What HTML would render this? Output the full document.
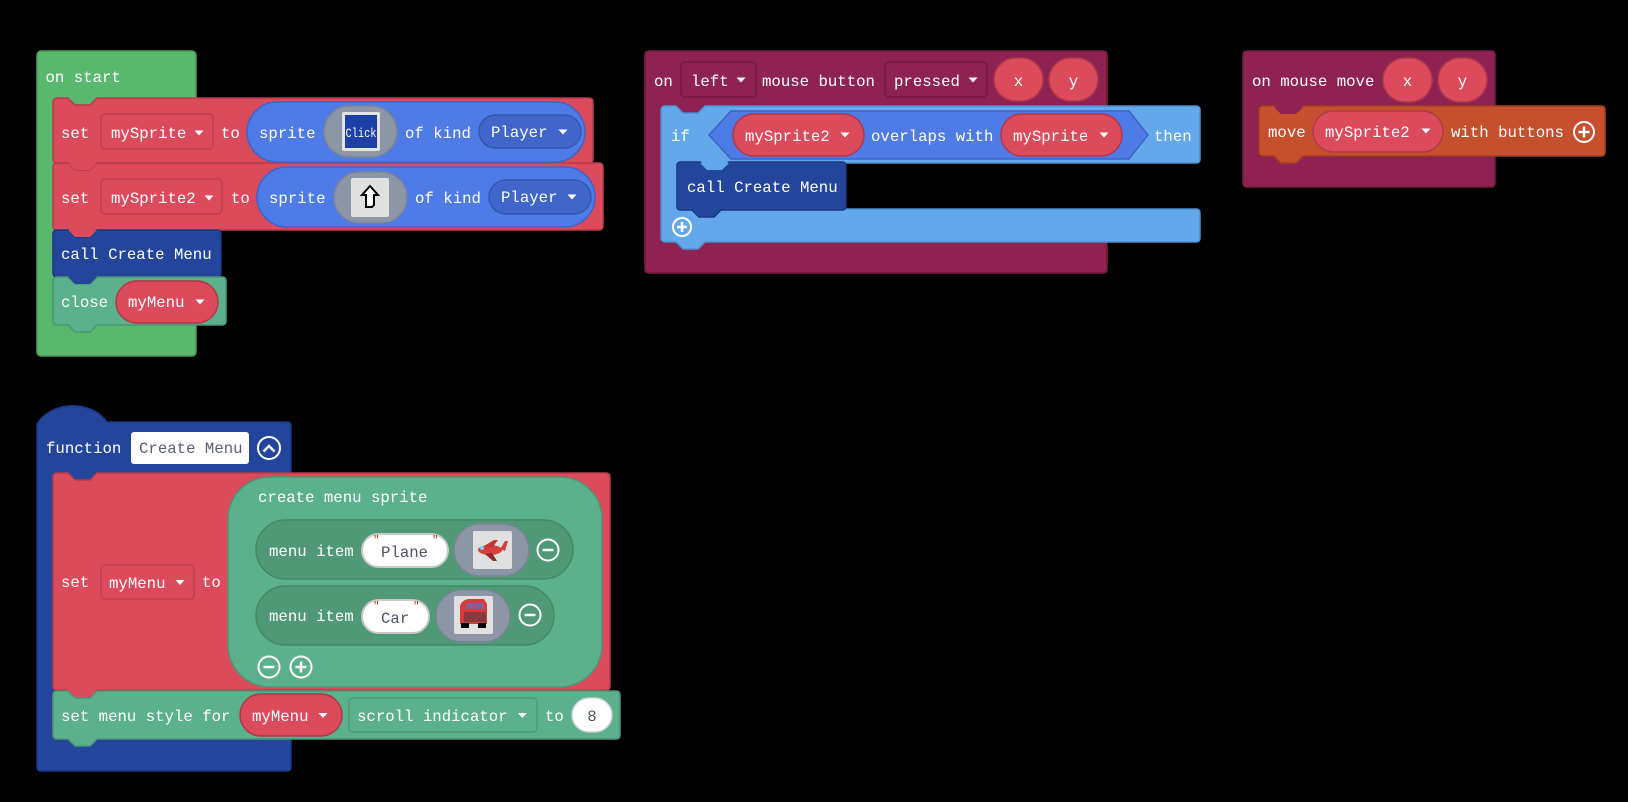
<!DOCTYPE html>
<html><head><meta charset="utf-8"><style>
html,body{margin:0;padding:0;background:#000;}
svg{display:block;}
text{font-family:"Liberation Mono",monospace;font-size:15.7px;fill:#fff;}
.dk{fill:#4d5466;}
.q{fill:#c0392b;font-size:11px;}
</style></head><body>
<svg width="1628" height="802" viewBox="0 0 1628 802" xmlns="http://www.w3.org/2000/svg">
<rect width="1628" height="802" fill="#000"/>

<!-- ON START -->
<rect x="37" y="51" width="159" height="305" rx="4" fill="#5ab86e" stroke="#4a9a5a" stroke-width="1.5"/>
<text x="45.5" y="82">on start</text>

<!-- set mySprite -->
<path d="M53,102 Q53,98 57,98 H68 l7,7 h15 l7,-7 H589 Q593,98 593,102 V159 Q593,163 589,163 H97 l-7,7 h-15 l-7,-7 H57 Q53,163 53,159 Z" fill="#dc4b5c" stroke="#b63c4b" stroke-width="1.5"/>
<!-- set mySprite2 -->
<path d="M53,167 Q53,163 57,163 H68 l7,7 h15 l7,-7 H599 Q603,163 603,167 V226 Q603,230 599,230 H97 l-7,7 h-15 l-7,-7 H57 Q53,230 53,226 Z" fill="#dc4b5c" stroke="#b63c4b" stroke-width="1.5"/>
<!-- call -->
<path d="M53,234 Q53,230 57,230 H68 l7,7 h15 l7,-7 H217 Q221,230 221,234 V273 Q221,277 217,277 H97 l-7,7 h-15 l-7,-7 H57 Q53,277 53,273 Z" fill="#23469c" stroke="#1b3680" stroke-width="1.5"/>
<!-- close -->
<path d="M53,281 Q53,277 57,277 H68 l7,7 h15 l7,-7 H222 Q226,277 226,281 V321 Q226,325 222,325 H97 l-7,7 h-15 l-7,-7 H57 Q53,325 53,321 Z" fill="#5cb18d" stroke="#4b9676" stroke-width="1.5"/>
<!-- redraw tabs over notches -->
<path d="M68,163 l7,7 h15 l7,-7 Z" fill="#dc4b5c"/>
<path d="M68,230 l7,7 h15 l7,-7 Z" fill="#dc4b5c"/>
<path d="M68,277 l7,7 h15 l7,-7 Z" fill="#23469c"/>

<!-- row1 -->
<text x="61" y="138">set</text>
<rect x="101" y="114" width="112" height="35" rx="4" fill="#dc4b5c" stroke="#b83e4e" stroke-width="1.2"/>
<text x="111" y="138">mySprite</text>
<polygon points="194.5,130.5 203.5,130.5 199,135.5" fill="#fff"/>
<text x="221" y="138">to</text>
<rect x="247" y="102" width="338" height="60" rx="30" fill="#4f7be6" stroke="#3e64c8" stroke-width="1.5"/>
<text x="259" y="138">sprite</text>
<rect x="324" y="106" width="73" height="51" rx="25.5" fill="#8d96a6" stroke="#7b8494" stroke-width="1.5"/>
<rect x="342" y="112" width="38" height="39" rx="2" fill="#e3e3e3"/>
<rect x="345" y="115" width="32" height="33" fill="#1d3fa8"/>
<text x="345.5" y="137" style="font-size:13px" textLength="31" lengthAdjust="spacingAndGlyphs">Click</text>
<text x="405" y="138">of kind</text>
<rect x="479" y="115" width="102" height="33" rx="16.5" fill="#4066cc" stroke="#3556b0" stroke-width="1.5"/>
<text x="491" y="137">Player</text>
<polygon points="558.5,129.5 567.5,129.5 563,134.5" fill="#fff"/>

<!-- row2 -->
<text x="61" y="203">set</text>
<rect x="101" y="179" width="121" height="35" rx="4" fill="#dc4b5c" stroke="#b83e4e" stroke-width="1.2"/>
<text x="111" y="203">mySprite2</text>
<polygon points="204.5,195.5 213.5,195.5 209,200.5" fill="#fff"/>
<text x="231" y="203">to</text>
<rect x="257" y="167" width="338" height="60" rx="30" fill="#4f7be6" stroke="#3e64c8" stroke-width="1.5"/>
<text x="269" y="203">sprite</text>
<rect x="334" y="172" width="73" height="51" rx="25.5" fill="#8d96a6" stroke="#7b8494" stroke-width="1.5"/>
<rect x="351" y="178" width="38" height="39" rx="2" fill="#e0e0e0"/>
<path d="M370,186 L378,195 L374,195 L374,205 L372,207 L366,207 L366,195 L362,195 Z" fill="#fff" stroke="#000" stroke-width="2"/>
<text x="415" y="203">of kind</text>
<rect x="489" y="180" width="102" height="34" rx="17" fill="#4066cc" stroke="#3556b0" stroke-width="1.5"/>
<text x="501" y="202">Player</text>
<polygon points="567.5,194.5 576.5,194.5 572,199.5" fill="#fff"/>

<text x="61" y="259">call Create Menu</text>
<text x="61" y="307">close</text>
<rect x="116" y="281" width="102" height="42" rx="21" fill="#dc4b5c" stroke="#b03848" stroke-width="1.5"/>
<text x="128" y="307">myMenu</text>
<polygon points="195.5,299.5 204.5,299.5 200,304.5" fill="#fff"/>

<!-- ON LEFT MOUSE BUTTON -->
<path d="M649,51 H1103 Q1107,51 1107,55 V106 H705 l-7,7 h-15 l-7,-7 H661 V242 H1107 V269 Q1107,273 1103,273 H649 Q645,273 645,269 V55 Q645,51 649,51 Z" fill="#8e2253" stroke="#751b44" stroke-width="1.5"/>
<text x="654" y="86">on</text>
<rect x="681" y="62" width="75" height="35" rx="4" fill="#8e2253" stroke="#6e1940" stroke-width="1.2"/>
<text x="691" y="86">left</text>
<polygon points="736.5,77.5 745.5,77.5 741,82.5" fill="#fff"/>
<text x="762" y="86">mouse button</text>
<rect x="885" y="62" width="102" height="35" rx="4" fill="#8e2253" stroke="#6e1940" stroke-width="1.2"/>
<text x="894" y="86">pressed</text>
<polygon points="968.5,77.5 977.5,77.5 973,82.5" fill="#fff"/>
<rect x="994" y="58" width="49" height="43" rx="21.5" fill="#dc4b5c" stroke="#b03848" stroke-width="1.5"/>
<text x="1018.5" y="86" text-anchor="middle">x</text>
<rect x="1049" y="58" width="49" height="43" rx="21.5" fill="#dc4b5c" stroke="#b03848" stroke-width="1.5"/>
<text x="1073.5" y="86" text-anchor="middle">y</text>

<!-- IF -->
<path d="M665,106 H676 l7,7 h15 l7,-7 H1196 Q1200,106 1200,110 V159 Q1200,163 1196,163 H729 l-7,7 h-15 l-7,-7 H677 V209 H1196 Q1200,209 1200,213 V238 Q1200,242 1196,242 H705 l-7,7 h-15 l-7,-7 H665 Q661,242 661,238 V110 Q661,106 665,106 Z" fill="#62a8ea" stroke="#4e8fd0" stroke-width="1.5"/>
<text x="671" y="141">if</text>
<polygon points="709,135 731,111 1129,111 1148,135 1129,159 731,159" fill="#4f7be6" stroke="#3c62c5" stroke-width="1.5"/>
<rect x="733" y="114" width="131" height="42" rx="21" fill="#dc4b5c" stroke="#b03848" stroke-width="1.5"/>
<text x="745" y="141">mySprite2</text>
<polygon points="840.5,132.5 849.5,132.5 845,137.5" fill="#fff"/>
<text x="871" y="141">overlaps with</text>
<rect x="1001" y="114" width="121" height="42" rx="21" fill="#dc4b5c" stroke="#b03848" stroke-width="1.5"/>
<text x="1013" y="141">mySprite</text>
<polygon points="1099.5,132.5 1108.5,132.5 1104,137.5" fill="#fff"/>
<text x="1154" y="141">then</text>
<!-- inner call -->
<path d="M677,166 Q677,162 681,162 H700 l7,7 h15 l7,-7 H842 Q846,162 846,166 V206 Q846,210 842,210 H721 l-7,7 h-15 l-7,-7 H681 Q677,210 677,206 Z" fill="#23469c" stroke="#1b3680" stroke-width="1.5"/>
<path d="M700,163 l7,7 h15 l7,-7 Z" fill="#62a8ea"/>
<text x="687" y="192">call Create Menu</text>
<circle cx="682" cy="227" r="9" fill="none" stroke="#fff" stroke-width="2"/>
<path d="M677,227 H687 M682,222 V232" stroke="#fff" stroke-width="2.5"/>

<!-- ON MOUSE MOVE -->
<path d="M1247,51 H1491 Q1495,51 1495,55 V106 H1303 l-7,7 h-15 l-7,-7 H1259 V156 H1495 V183 Q1495,187 1491,187 H1247 Q1243,187 1243,183 V55 Q1243,51 1247,51 Z" fill="#8e2253" stroke="#751b44" stroke-width="1.5"/>
<text x="1252" y="86">on mouse move</text>
<rect x="1383" y="58" width="49" height="44" rx="22" fill="#dc4b5c" stroke="#b03848" stroke-width="1.5"/>
<text x="1407.5" y="86" text-anchor="middle">x</text>
<rect x="1438" y="58" width="49" height="44" rx="22" fill="#dc4b5c" stroke="#b03848" stroke-width="1.5"/>
<text x="1462.5" y="86" text-anchor="middle">y</text>
<path d="M1259,110 Q1259,106 1263,106 H1274 l7,7 h15 l7,-7 H1601 Q1605,106 1605,110 V152 Q1605,156 1601,156 H1303 l-7,7 h-15 l-7,-7 H1263 Q1259,156 1259,152 Z" fill="#c64f2d" stroke="#a63f22" stroke-width="1.5"/>
<path d="M1274,107 l7,7 h15 l7,-7 Z" fill="#8e2253"/>
<text x="1268" y="137">move</text>
<rect x="1313" y="111" width="130" height="41" rx="20.5" fill="#dc4b5c" stroke="#b03848" stroke-width="1.5"/>
<text x="1325" y="137">mySprite2</text>
<polygon points="1421.5,128.5 1430.5,128.5 1426,133.5" fill="#fff"/>
<text x="1451" y="137">with buttons</text>
<circle cx="1584" cy="132" r="10" fill="none" stroke="#fff" stroke-width="2"/>
<path d="M1578.5,132 H1589.5 M1584,126.5 V137.5" stroke="#fff" stroke-width="2.5"/>

<!-- FUNCTION -->
<path d="M37,424 C52,400 92,400 107,422 H287 Q291,422 291,426 V767 Q291,771 287,771 H41 Q37,771 37,767 Z" fill="#23469c" stroke="#1b3680" stroke-width="1.5"/>
<text x="46" y="453">function</text>
<rect x="131" y="432" width="118" height="32" rx="3" fill="#fff"/>
<text x="139" y="453" style="fill:#575e75">Create Menu</text>
<circle cx="269" cy="448" r="11" fill="none" stroke="#fff" stroke-width="2"/>
<polyline points="263.5,451.5 269,446 274.5,451.5" fill="none" stroke="#fff" stroke-width="2.5"/>

<!-- set myMenu -->
<path d="M53,477 Q53,473 57,473 H68 l7,7 h15 l7,-7 H606 Q610,473 610,477 V686 Q610,690 606,690 H97 l-7,7 h-15 l-7,-7 H57 Q53,690 53,686 Z" fill="#dc4b5c" stroke="#b63c4b" stroke-width="1.5"/>
<text x="61" y="587">set</text>
<rect x="101" y="565" width="93" height="34" rx="4" fill="#dc4b5c" stroke="#b83e4e" stroke-width="1.2"/>
<text x="109" y="588">myMenu</text>
<polygon points="175.5,580 184.5,580 180,585" fill="#fff"/>
<text x="202" y="587">to</text>
<rect x="228" y="477" width="374" height="210" rx="42" fill="#5cb18d" stroke="#4b9676" stroke-width="1.5"/>
<text x="258" y="502">create menu sprite</text>

<!-- plane item -->
<rect x="256" y="520" width="317" height="59" rx="29.5" fill="#4f9977" stroke="#44876a" stroke-width="1.5"/>
<text x="269" y="556">menu item</text>
<rect x="362" y="534" width="86" height="33" rx="16.5" fill="#fff" stroke="#c8c8c8" stroke-width="2"/>
<text x="373" y="543" class="q">"</text>
<text x="381" y="557" class="dk">Plane</text>
<text x="432" y="543" class="q">"</text>
<rect x="454" y="524" width="75" height="52" rx="26" fill="#8d96a6" stroke="#7b8494" stroke-width="1.5"/>
<rect x="473" y="531" width="39" height="38" rx="2" fill="#e0e0e0"/>
<ellipse cx="490" cy="550" rx="12" ry="5" fill="#d8403a"/>
<path d="M484,546 L494,540 L498,540 L492,548 Z" fill="#c23530"/>
<path d="M485,554 L493,561 L497,561 L492,553 Z" fill="#8c2a2a"/>
<path d="M500,549 L505,541 L508,541 L505,551 Z" fill="#d8403a"/>
<circle cx="482" cy="548" r="2" fill="#7fd0f0"/>
<circle cx="548" cy="550" r="10.5" fill="none" stroke="#fff" stroke-width="2"/>
<path d="M542.5,550 H553.5" stroke="#fff" stroke-width="2.5"/>

<!-- car item -->
<rect x="256" y="586" width="298" height="59" rx="29.5" fill="#4f9977" stroke="#44876a" stroke-width="1.5"/>
<text x="269" y="621">menu item</text>
<rect x="362" y="600" width="67" height="33" rx="16.5" fill="#fff" stroke="#c8c8c8" stroke-width="2"/>
<text x="373" y="609" class="q">"</text>
<text x="381" y="623" class="dk">Car</text>
<text x="413" y="609" class="q">"</text>
<rect x="436" y="590" width="74" height="52" rx="26" fill="#8d96a6" stroke="#7b8494" stroke-width="1.5"/>
<rect x="454" y="596" width="39" height="38" rx="2" fill="#e0e0e0"/>
<path d="M460,606 Q462,600 468,599 H484 L487,604 V624 H460 Z" fill="#d83a3a"/>
<rect x="466" y="603" width="18" height="6" fill="#8a5a9a"/>
<rect x="464" y="612" width="22" height="10" fill="#8a3a3a"/>
<rect x="461" y="623" width="8" height="5" fill="#000"/>
<rect x="478" y="623" width="8" height="5" fill="#000"/>
<circle cx="530" cy="615" r="10.5" fill="none" stroke="#fff" stroke-width="2"/>
<path d="M524.5,615 H535.5" stroke="#fff" stroke-width="2.5"/>

<circle cx="269" cy="667" r="10.5" fill="none" stroke="#fff" stroke-width="2"/>
<path d="M263.5,667 H274.5" stroke="#fff" stroke-width="2.5"/>
<circle cx="301" cy="667" r="10.5" fill="none" stroke="#fff" stroke-width="2"/>
<path d="M295.5,667 H306.5 M301,661.5 V672.5" stroke="#fff" stroke-width="2.5"/>

<!-- set menu style -->
<path d="M53,695 Q53,691 57,691 H68 l7,7 h15 l7,-7 H616 Q620,691 620,695 V735 Q620,739 616,739 H97 l-7,7 h-15 l-7,-7 H57 Q53,739 53,735 Z" fill="#5cb18d" stroke="#4b9676" stroke-width="1.5"/>
<path d="M68,690 l7,7 h15 l7,-7 Z" fill="#dc4b5c"/>
<text x="61" y="721">set menu style for</text>
<rect x="240" y="694" width="102" height="42" rx="21" fill="#dc4b5c" stroke="#b03848" stroke-width="1.5"/>
<text x="252" y="721">myMenu</text>
<polygon points="318.5,713 327.5,713 323,718" fill="#fff"/>
<rect x="349" y="698" width="188" height="34" rx="4" fill="#5cb18d" stroke="#4b9676" stroke-width="1.2"/>
<text x="357" y="721">scroll indicator</text>
<polygon points="518,713 527,713 522.5,718" fill="#fff"/>
<text x="545" y="721">to</text>
<rect x="572" y="698" width="40" height="34" rx="17" fill="#fff" stroke="#d0d0d0" stroke-width="1.5"/>
<text x="592" y="721" text-anchor="middle" class="dk">8</text>
</svg>
</body></html>
